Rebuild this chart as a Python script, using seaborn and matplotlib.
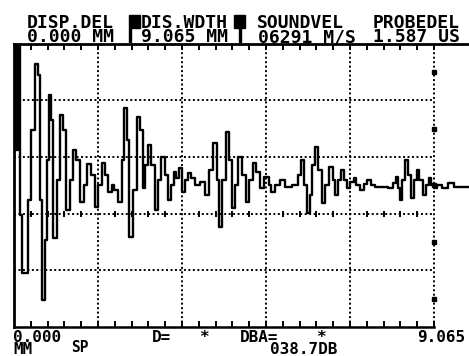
import matplotlib
matplotlib.use("Agg")
import matplotlib.pyplot as plt
from matplotlib.patches import Rectangle
import pandas as pd
import seaborn as sns

# ---- data (x in 1/10 screen division, y in % screen height) ----
pos = [0.12, 0.36, 0.48, 0.60, 0.71, 0.83, 1.19, 1.43, 1.90, 2.26, 2.74, 2.98, 3.21, 3.57,
       3.81, 4.05,
       4.29, 4.52, 4.88, 5.24, 5.71, 5.95, 6.43, 6.79, 7.26, 7.62, 8.10, 8.45, 8.93, 9.29,
       9.88, 10.24, 10.60, 10.95, 11.43, 11.79, 12.14, 12.62, 12.98, 13.33, 13.57, 13.93,
       14.29, 14.88, 15.12, 15.48, 15.83, 16.19, 16.55, 17.02, 17.38, 17.74, 18.10, 18.57,
       18.93, 19.17, 19.52, 19.88, 20.12, 20.48, 20.95, 21.31, 21.79, 22.38, 22.98, 23.45,
       23.93, 24.29, 24.64, 25.00, 25.48, 25.83, 26.19, 26.55, 26.90, 27.38, 27.86, 28.21,
       28.69, 29.05, 29.52, 30.12, 30.48, 30.83, 31.43, 31.90, 32.62, 33.69, 34.05, 34.40,
       34.76, 35.12, 35.36, 35.71, 36.07, 36.43, 36.79, 37.26, 37.74, 38.10, 38.45, 38.81,
       39.17, 39.52, 39.76, 40.24, 40.60, 40.95, 41.43, 41.90, 42.26, 42.74, 43.21, 44.17,
       45.00, 45.24, 45.60, 45.83, 46.07, 46.43, 46.79, 47.14, 47.50, 47.86, 48.10, 48.45,
       48.93, 49.29, 49.52, 49.88, 50.12, 50.71, 51.31, 52.02, 52.74, 53.45, 54.17]
amp = [100, 62.4, 100, 100, 62.4, 39.5, 19.0, 19.0, 44.8, 69.5, 92.8, 88.9, 44.8, 9.5,
       30.7, 58.9,
       81.8, 73.0, 31.4, 51.9, 74.8, 69.5, 41.3, 51.9, 62.4, 58.9, 44.1, 50.1, 57.5, 53.6,
       42.3, 50.1, 57.8, 53.6, 47.6, 50.1, 48.3, 44.1, 58.9, 77.2, 66.0, 31.7,
       48.3, 74.1, 69.5, 49.0, 57.1, 64.2, 57.1, 41.3, 51.9, 60.0, 53.6, 44.8,
       50.1, 54.7, 52.6, 56.1, 47.6, 51.9, 54.3, 52.6, 50.1, 51.1, 46.6, 55.4,
       64.9, 51.9, 35.3, 51.9, 68.8, 58.9, 42.0, 50.1, 60.0, 53.6, 44.1, 51.9,
       57.8, 54.7, 49.0, 52.9, 50.1, 47.6, 50.1, 51.9, 49.4, 50.1, 53.6, 58.9,
       50.1, 40.2, 46.6, 57.1, 63.5, 55.4, 43.7, 50.1, 56.4, 51.9, 46.6, 51.9,
       55.4, 51.9, 49.0, 51.1, 52.6, 50.1, 48.3, 50.4, 51.9, 50.1, 49.4, 49.4,
       49.0, 50.8, 52.9, 49.0, 44.8, 51.9, 58.9, 53.6, 45.5, 51.9, 55.4, 51.9,
       46.6, 50.1, 52.6, 50.1, 49.0, 50.1, 49.0, 50.8, 49.4, 49.4, 49.4]

grid_x = [10, 20, 30, 40, 50]
grid_y = [20, 40, 60, 80]
minor_x = [v for v in range(2, 50, 2) if v % 10]
half_y = [10, 30, 50, 70, 90]

header_top = [("DISP.DEL", 27), ("DIS.WDTH", 141), ("SOUNDVEL", 257), ("PROBEDEL", 373)]
header_bot = [("0.000 MM", 27), ("9.065 MM", 141), ("06291 M/S", 258), ("1.587 US", 373)]
footer_1 = [("0.000", 13), ("D=", 152), ("*", 199), ("DBA=", 240), ("*", 316), ("9.065", 417)]
footer_2 = [("MM", 13), ("038.7DB", 270)]

W, H = 469, 356
sns.set_theme(style="white")
plt.rcParams["font.family"] = ["DejaVu Sans Mono"]

fig = plt.figure(figsize=(W / 100, H / 100), dpi=100)
fig.patch.set_facecolor("white")
ax = fig.add_axes([14 / W, 1 - 327 / H, (469 - 14) / W, (327 - 43.5) / H])
ax.set_facecolor("white")

dot = (0, (1, 1.3))
for gx in grid_x:
    ax.vlines(gx, 0, 100, colors="black", linestyles=[dot], lw=1.4, zorder=1)
for gy in grid_y:
    ax.hlines(gy, 0, 50, colors="black", linestyles=[dot], lw=1.4, zorder=1)
ax.plot(minor_x, [40] * len(minor_x), ls="none", marker="|", ms=4, mew=1.4, color="black")
ax.plot([50] * len(half_y), half_y, ls="none", marker="s", ms=2.6, color="black")

df = pd.DataFrame({"pos": pos, "amp": amp})
sns.lineplot(data=df, x="pos", y="amp", ax=ax, color="black", lw=1.7,
             estimator=None, drawstyle="steps-mid", zorder=3)

ax.set_xlim(0, 54.17)
ax.set_ylim(0, 100)
ax.set_xlabel("")
ax.set_ylabel("")
ax.set_xticks(list(range(2, 52, 2)))
ax.set_yticks([])
ax.tick_params(axis="x", direction="in", top=True, bottom=True, length=4, width=1.4,
               color="black", labelbottom=False, labeltop=False)
for side in ["left", "top", "bottom"]:
    ax.spines[side].set_visible(True)
    ax.spines[side].set_color("black")
ax.spines["left"].set_linewidth(2.0)
ax.spines["top"].set_linewidth(2.0)
ax.spines["bottom"].set_linewidth(1.8)
ax.spines["bottom"].set_bounds(0, 50)
ax.spines["right"].set_visible(False)

def ftext(s, px, py, size, va="baseline"):
    fig.text(px / W, 1 - py / H, s, fontsize=size, fontweight="bold",
             ha="left", va=va, color="black")

for s, px in header_top:
    ftext(s, px, 28, 13)
for s, px in header_bot:
    ftext(s, px, 42, 13)
for s, px in footer_1:
    ftext(s, px, 342, 11.5)
for s, px in footer_2:
    ftext(s, px, 354, 11.5)
ftext("SP", 71, 355.5, 10.5, va="bottom")

# inverse-video markers around the active field
for x0, x1 in [(129, 140), (234, 245)]:
    fig.patches.append(Rectangle((x0 / W, 1 - 28 / H), (x1 - x0) / W, 13 / H,
                                 transform=fig.transFigure, color="black"))
for x0 in [129, 239]:
    fig.patches.append(Rectangle((x0 / W, 1 - 42 / H), 2.2 / W, 14 / H,
                                 transform=fig.transFigure, color="black"))

fig.savefig("out.png", dpi=100, facecolor="white")
